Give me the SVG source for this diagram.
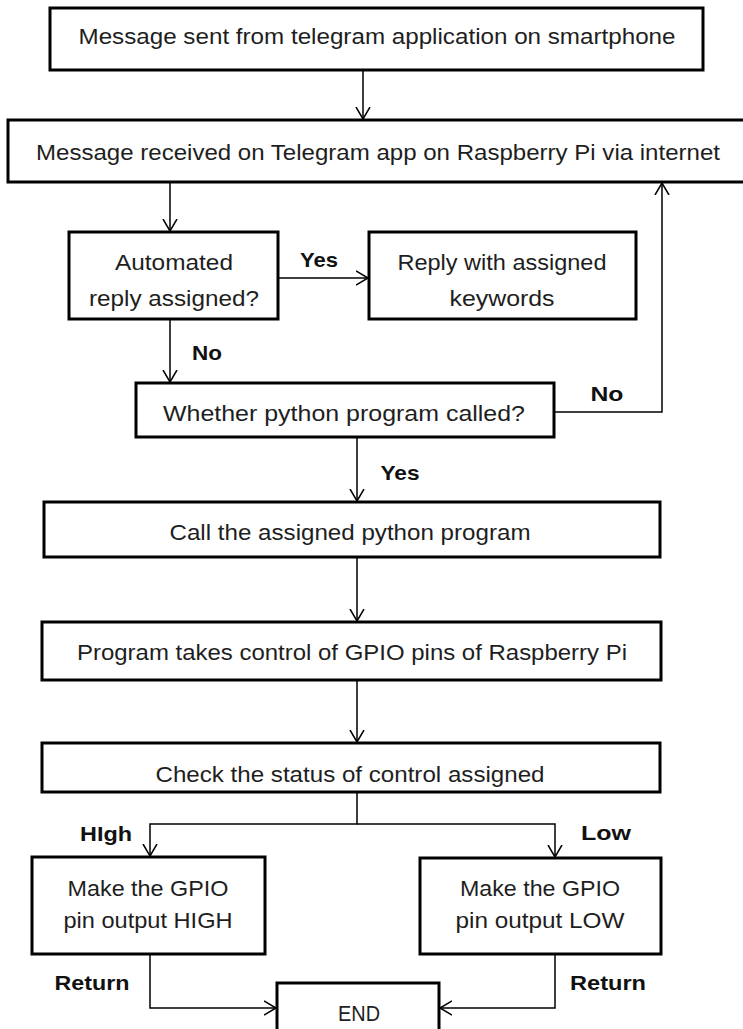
<svg xmlns="http://www.w3.org/2000/svg" width="743" height="1029" viewBox="0 0 743 1029">
<style>
.box{fill:#ffffff;stroke:#000000;stroke-width:3}
.t{font-family:"Liberation Sans",Arial,sans-serif;font-size:22px;fill:#1e1e1e;text-anchor:middle;dominant-baseline:central}
.l{font-family:"Liberation Sans",Arial,sans-serif;font-size:21px;font-weight:bold;fill:#111111;text-anchor:middle;dominant-baseline:central}
.c{fill:none;stroke:#000000;stroke-width:1.5}
</style>
<defs>
<marker id="ah" viewBox="0 0 20 20" refX="12" refY="10" markerWidth="20" markerHeight="20" markerUnits="userSpaceOnUse" orient="auto">
<path d="M0,3 L12,10 L0,17" fill="none" stroke="#000000" stroke-width="1.5"/>
</marker>
</defs>
<rect width="743" height="1029" fill="#ffffff"/>
<g id="connectors">
<line class="c" x1="363" y1="70" x2="363" y2="119" marker-end="url(#ah)"/>
<line class="c" x1="170" y1="182" x2="170" y2="231" marker-end="url(#ah)"/>
<line class="c" x1="278" y1="278" x2="368" y2="278" marker-end="url(#ah)"/>
<line class="c" x1="170" y1="319" x2="170" y2="382" marker-end="url(#ah)"/>
<polyline class="c" points="554,412 662,412 662,183" marker-end="url(#ah)"/>
<line class="c" x1="357" y1="437" x2="357" y2="501" marker-end="url(#ah)"/>
<line class="c" x1="357" y1="557" x2="357" y2="621" marker-end="url(#ah)"/>
<line class="c" x1="357" y1="680" x2="357" y2="742" marker-end="url(#ah)"/>
<polyline class="c" points="357,792 357,824 150,824 150,856" marker-end="url(#ah)"/>
<polyline class="c" points="357,824 555,824 555,857" marker-end="url(#ah)"/>
<polyline class="c" points="150,954 150,1008 276,1008" marker-end="url(#ah)"/>
<polyline class="c" points="555,954 555,1008 440,1008" marker-end="url(#ah)"/>
<text class="l" x="319" y="259" textLength="38" lengthAdjust="spacingAndGlyphs">Yes</text>
<text class="l" x="207" y="352" textLength="30" lengthAdjust="spacingAndGlyphs">No</text>
<text class="l" x="607" y="393" textLength="33" lengthAdjust="spacingAndGlyphs">No</text>
<text class="l" x="400" y="472" textLength="39" lengthAdjust="spacingAndGlyphs">Yes</text>
<text class="l" x="106" y="833" textLength="52" lengthAdjust="spacingAndGlyphs">HIgh</text>
<text class="l" x="606" y="832" textLength="50" lengthAdjust="spacingAndGlyphs">Low</text>
<text class="l" x="92" y="982" textLength="75" lengthAdjust="spacingAndGlyphs">Return</text>
<text class="l" x="608" y="982" textLength="76" lengthAdjust="spacingAndGlyphs">Return</text>
</g>
<g id="n1">
<rect class="box" x="50" y="8" width="653" height="62"/>
<text class="t" x="377" y="36" textLength="597" lengthAdjust="spacingAndGlyphs">Message sent from telegram application on smartphone</text>
</g>
<g id="n2">
<rect class="box" x="8" y="120" width="745" height="62"/>
<text class="t" x="378" y="152" textLength="684" lengthAdjust="spacingAndGlyphs">Message received on Telegram app on Raspberry Pi via internet</text>
</g>
<g id="n3">
<rect class="box" x="69" y="232" width="209" height="87"/>
<text class="t" x="174" y="262" textLength="118" lengthAdjust="spacingAndGlyphs">Automated</text>
<text class="t" x="174" y="298" textLength="170" lengthAdjust="spacingAndGlyphs">reply assigned?</text>
</g>
<g id="n4">
<rect class="box" x="369" y="232" width="267" height="87"/>
<text class="t" x="502" y="262" textLength="209" lengthAdjust="spacingAndGlyphs">Reply with assigned</text>
<text class="t" x="502" y="298" textLength="105" lengthAdjust="spacingAndGlyphs">keywords</text>
</g>
<g id="n5">
<rect class="box" x="136" y="383" width="418" height="54"/>
<text class="t" x="344" y="413" textLength="362" lengthAdjust="spacingAndGlyphs">Whether python program called?</text>
</g>
<g id="n6">
<rect class="box" x="44" y="502" width="616" height="55"/>
<text class="t" x="350" y="532" textLength="361" lengthAdjust="spacingAndGlyphs">Call the assigned python program</text>
</g>
<g id="n7">
<rect class="box" x="42" y="622" width="619" height="58"/>
<text class="t" x="352" y="652" textLength="550" lengthAdjust="spacingAndGlyphs">Program takes control of GPIO pins of Raspberry Pi</text>
</g>
<g id="n8">
<rect class="box" x="42" y="743" width="618" height="49"/>
<text class="t" x="350" y="774" textLength="389" lengthAdjust="spacingAndGlyphs">Check the status of control assigned</text>
</g>
<g id="n9">
<rect class="box" x="32" y="857" width="233" height="97"/>
<text class="t" x="148" y="888" textLength="161" lengthAdjust="spacingAndGlyphs">Make the GPIO</text>
<text class="t" x="148" y="920" textLength="169" lengthAdjust="spacingAndGlyphs">pin output HIGH</text>
</g>
<g id="n10">
<rect class="box" x="420" y="858" width="241" height="96"/>
<text class="t" x="540" y="888" textLength="160" lengthAdjust="spacingAndGlyphs">Make the GPIO</text>
<text class="t" x="540" y="920" textLength="169" lengthAdjust="spacingAndGlyphs">pin output LOW</text>
</g>
<g id="n11">
<rect class="box" x="277" y="983" width="162" height="60"/>
<text class="t" x="359" y="1013" textLength="42" lengthAdjust="spacingAndGlyphs">END</text>
</g>
</svg>
